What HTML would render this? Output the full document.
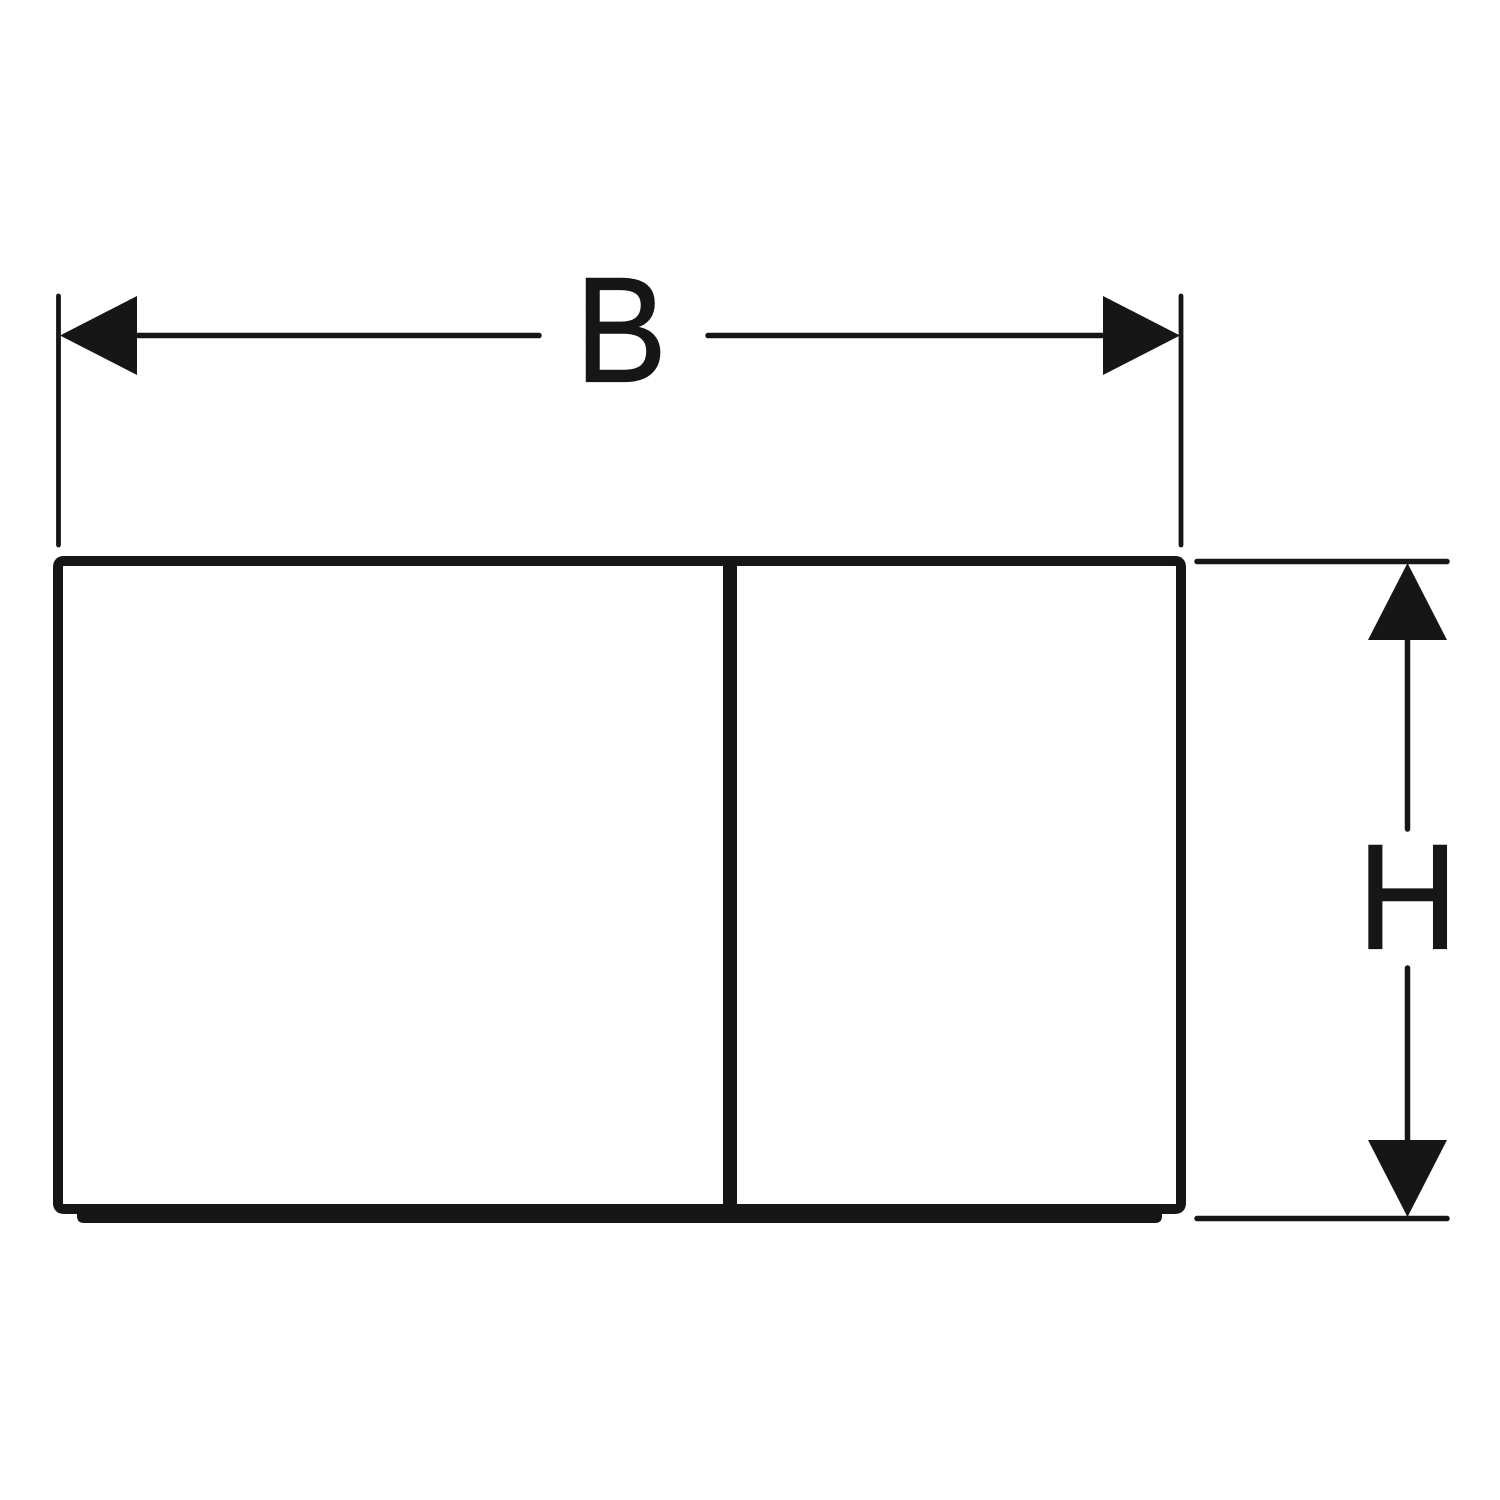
<!DOCTYPE html>
<html>
<head>
<meta charset="utf-8">
<style>
html,body{margin:0;padding:0;background:#fff;}
svg{display:block;}
text{font-family:"Liberation Sans",sans-serif;fill:#161616;stroke:#161616;stroke-width:1.2px;font-size:150px;}
</style>
</head>
<body>
<svg width="1500" height="1500" viewBox="0 0 1500 1500" xmlns="http://www.w3.org/2000/svg">
<rect width="1500" height="1500" fill="#fff"/>
<g stroke="#161616" fill="none" stroke-linecap="round">
  <!-- B dimension -->
  <line x1="58.5" y1="296" x2="58.5" y2="545" stroke-width="4.8"/>
  <line x1="1181" y1="296" x2="1181" y2="545" stroke-width="4.8"/>
  <line x1="137" y1="335.5" x2="539" y2="335.5" stroke-width="5.5"/>
  <line x1="708" y1="335.5" x2="1103" y2="335.5" stroke-width="5.5"/>
  <!-- H dimension -->
  <line x1="1197" y1="561.5" x2="1447" y2="561.5" stroke-width="5.5"/>
  <line x1="1197" y1="1218.5" x2="1447" y2="1218.5" stroke-width="5.5"/>
  <line x1="1407.5" y1="640" x2="1407.5" y2="829" stroke-width="5.5"/>
  <line x1="1407.5" y1="968" x2="1407.5" y2="1140" stroke-width="5.5"/>
  <!-- Frame -->
  <path d="M58 1200 V567 Q58 561 64 561 H1175 Q1181 561 1181 567 V1203 Q1181 1209 1175 1209 H64 Q58 1209 58 1203 Z" stroke-width="10"/>
  <line x1="730" y1="561" x2="730" y2="1212" stroke-width="14" stroke-linecap="butt"/>
</g>
<g fill="#161616">
  <path d="M77 1209 H1162 V1216 Q1162 1223 1155 1223 H84 Q77 1223 77 1216 Z"/>
  <polygon points="60,335.5 137,296 137,375"/>
  <polygon points="1180,335.5 1103,296 1103,375"/>
  <polygon points="1407.5,563 1368,640 1447,640"/>
  <polygon points="1407.5,1217 1368,1140 1447,1140"/>
</g>
<text transform="translate(575 381.5) scale(0.92 1)">B</text>
<text transform="translate(1357.5 948.5) scale(0.926 1)">H</text>
</svg>
</body>
</html>
